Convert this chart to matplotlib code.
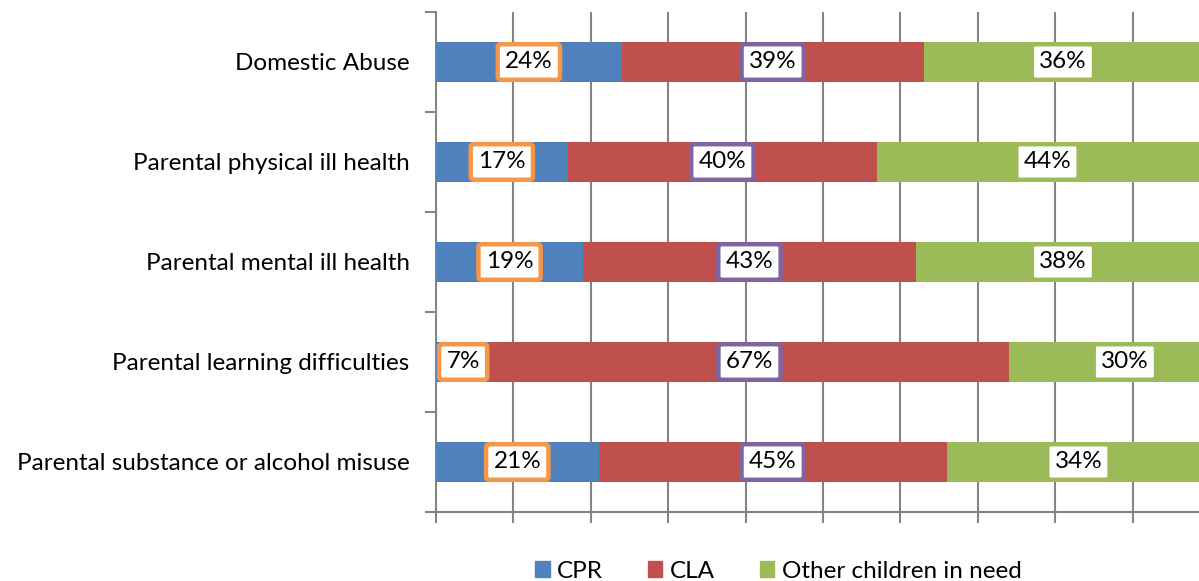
import matplotlib
matplotlib.use("Agg")
import matplotlib.pyplot as plt
from matplotlib.patches import Patch
import numpy as np

categories = ["Domestic Abuse", "Parental physical ill health", "Parental mental ill health",
              "Parental learning difficulties", "Parental substance or alcohol misuse"]
cpr = [0.24, 0.17, 0.19, 0.07, 0.21]
cla = [0.39, 0.40, 0.43, 0.67, 0.45]
other = [0.36, 0.44, 0.38, 0.30, 0.34]
series_names = ["CPR", "CLA", "Other children in need"]

fill_colors = ["#4F81BD", "#C0504D", "#9BBB59"]
edge_colors = ["#F79646", "#8064A2", "#9BBB59"]
font = "Lato"
fs = 17.5

fig = plt.figure(figsize=(11.99, 5.81), dpi=100)
ax = fig.add_axes([436/1199, 1-512/581, (1210-436)/1199, 500/581])

y = np.arange(len(categories))
left = np.zeros(len(categories))
for vals, fc, ec in zip([cpr, cla, other], fill_colors, edge_colors):
    vals = np.array(vals)
    ax.barh(y, vals, left=left, height=0.4, color=fc, zorder=3)
    for yi, l, v in zip(y, left, vals):
        ax.text(l + v/2, yi, f"{v*100:.0f}%", ha="center", va="center", fontsize=fs,
                family=font, zorder=5,
                bbox=dict(boxstyle="round,pad=0.3,rounding_size=0.12", fc="white", ec=ec, lw=3.2))
    left += vals

ax.set_xlim(0, 1)
ax.set_ylim(len(categories) - 0.5, -0.5)
ax.set_xticks(np.arange(0, 1.01, 0.1))
ax.set_xticklabels([])
ax.grid(axis="x", color="#868686", lw=1.5, zorder=0)
ax.set_yticks(np.arange(-0.5, len(categories), 1))
ax.set_yticklabels([])
ax.set_yticks(y, minor=True)
ax.set_yticklabels(categories, minor=True, fontsize=fs, family=font)
ax.tick_params(axis="y", which="minor", length=0, pad=19)
ax.tick_params(axis="both", which="major", length=8, width=1.5, color="#868686", direction="out")
for s in ["top", "right"]:
    ax.spines[s].set_visible(False)
for s in ["left", "bottom"]:
    ax.spines[s].set_color("#868686")
    ax.spines[s].set_linewidth(1.5)

handles = [Patch(color=c, label=n) for c, n in zip(fill_colors, series_names)]
fig.legend(handles=handles, loc="center left", bbox_to_anchor=(535/1199, 1-571/581), ncol=3,
           frameon=False, prop=dict(family=font, size=fs), handlelength=0.6,
           handleheight=0.6, handletextpad=0.3, columnspacing=1.85, borderaxespad=0,
           borderpad=0)

fig.savefig("out.png", dpi=100)
